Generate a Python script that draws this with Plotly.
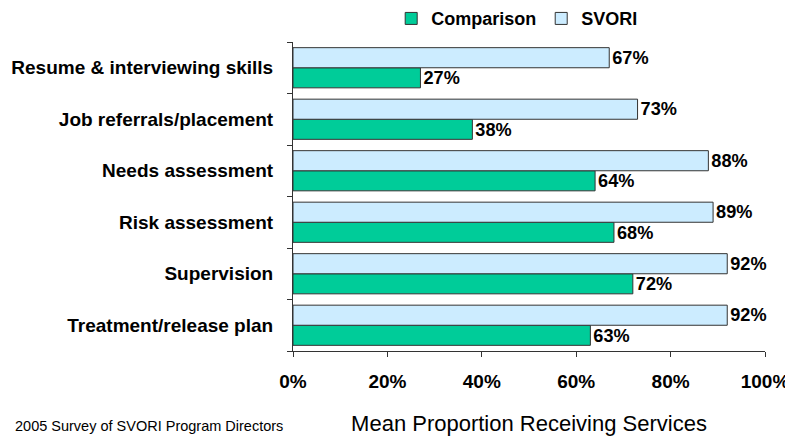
import plotly.graph_objects as go

categories = ["Resume & interviewing skills", "Job referrals/placement", "Needs assessment",
              "Risk assessment", "Supervision", "Treatment/release plan"]
comparison = [27, 38, 64, 68, 72, 63]
svori = [67, 73, 88, 89, 92, 92]
x_ticks = [0, 20, 40, 60, 80, 100]
x_tick_labels = ["0%", "20%", "40%", "60%", "80%", "100%"]
footer = "2005 Survey of SVORI Program Directors"

FONT = "Liberation Sans, Arial"
order = categories[::-1]

fig = go.Figure()
fig.add_trace(go.Bar(
    y=categories, x=comparison, name="<b>Comparison</b>", orientation="h",
    marker=dict(color="#00CC99", line=dict(color="#333333", width=1)),
    text=[f"<b>{v}%</b>" for v in comparison], textposition="outside",
    textfont=dict(family=FONT, size=19, color="black"),
    cliponaxis=False,
))
fig.add_trace(go.Bar(
    y=categories, x=svori, name="<b>SVORI</b>", orientation="h",
    marker=dict(color="#CCECFF", line=dict(color="#333333", width=1)),
    text=[f"<b>{v}%</b>" for v in svori], textposition="outside",
    textfont=dict(family=FONT, size=19, color="black"),
    cliponaxis=False,
))

fig.update_layout(
    width=785, height=429,
    margin=dict(l=285, r=28, t=34, b=86, autoexpand=False),
    barmode="group", bargap=0.22, bargroupgap=0,
    plot_bgcolor="white", paper_bgcolor="white",
    font=dict(family=FONT, color="black"),
    uniformtext=dict(minsize=8, mode="show"),
    legend=dict(orientation="h", x=0.475, y=0.975, xanchor="center", yanchor="middle",
                yref="container", font=dict(size=18, family=FONT, color="black"),
                itemwidth=30, traceorder="normal", tracegroupgap=0),
    xaxis=dict(range=[0, 100], tickvals=x_ticks, ticktext=[f"<b>{t}</b>" for t in x_tick_labels],
               showgrid=False, zeroline=False, showline=True, linecolor="#333333",
               ticks="outside", ticklen=5, tickcolor="#333333", automargin=False,
               tickfont=dict(size=19, family=FONT), ticklabelstandoff=8,
               title=dict(text="Mean Proportion Receiving Services",
                          font=dict(size=22, family=FONT), standoff=24)),
    yaxis=dict(categoryorder="array", categoryarray=order,
               showgrid=False, zeroline=False, showline=True, linecolor="#333333",
               ticks="outside", ticklen=5, tickcolor="#333333", tickson="boundaries",
               tickfont=dict(size=19, family=FONT), automargin=False,
               tickprefix="<b>", ticksuffix="</b>", ticklabelstandoff=15),
    showlegend=True,
)

fig.add_annotation(text=footer, xref="paper", yref="paper",
                   x=-280/472, y=-85/309, xanchor="left", yanchor="bottom", showarrow=False,
                   font=dict(size=14.5, family=FONT, color="black"))

fig.write_html("out.html")
